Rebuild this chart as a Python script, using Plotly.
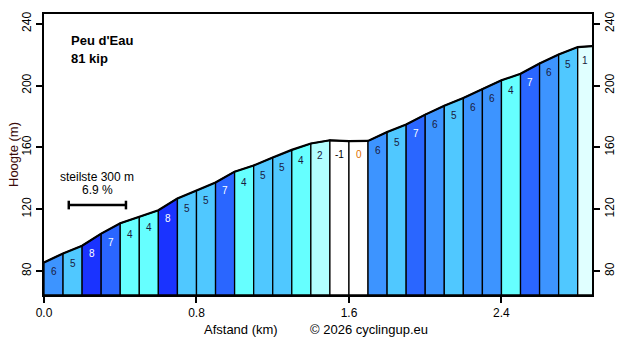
import plotly.graph_objects as go

# Data
dist_km = [0.0, 0.1, 0.2, 0.3, 0.4, 0.5, 0.6, 0.7, 0.8, 0.9, 1.0, 1.1, 1.2, 1.3, 1.4,
           1.5, 1.6, 1.7, 1.8, 1.9, 2.0, 2.1, 2.2, 2.3, 2.4, 2.5, 2.6, 2.7, 2.8, 2.88]
elev_m = [85.6, 91.4, 96.4, 104.2, 110.9, 115.0, 119.3, 127.0, 132.0, 137.3, 144.3, 148.3,
          153.4, 158.4, 162.5, 164.6, 164.1, 164.2, 169.9, 174.8, 181.2, 187.0, 192.0,
          197.8, 203.4, 207.6, 214.3, 220.1, 224.9, 225.6]
grades = [6, 5, 8, 7, 4, 4, 8, 5, 5, 7, 4, 5, 5, 4, 2, -1, 0, 6, 5, 7, 6, 5, 6, 6, 4, 7, 6, 5, 1]

title_lines = ["Peu d'Eau", "81 kip"]
steep_text = ["steilste 300 m", "6.9 %"]
steep_range = [0.13, 0.43]
x_ticks = [0.0, 0.8, 1.6, 2.4]
y_ticks = [80, 120, 160, 200, 240]

Y0, Y1 = 64.5, 246.3
X0, X1 = 0.0, 2.875

colour_map = {8: "#1a33ff", 7: "#2a66ff", 6: "#3d94ff", 5: "#50c8ff", 4: "#66ffff",
              3: "#8cffff", 2: "#b3ffff", 1: "#e0ffff", 0: "#ffffff", -1: "#ffffff"}

def label_colour(g):
    if g >= 7:
        return "#ffffff"
    if g == 0:
        return "#e07000"
    if g < 0:
        return "#000000"
    return "#1a1a40"

FONT = "Liberation Sans, Arial, sans-serif"
W, H = 632, 341
ML, MR, MT, MB = 44, 40, 14, 46
PW, PH = W - ML - MR, H - MT - MB

def px_to_paper(px, py):
    return (px - ML) / PW, (H - MB - py) / PH

fig = go.Figure()

for i, g in enumerate(grades):
    xa, xb = dist_km[i], dist_km[i + 1]
    ya, yb = elev_m[i], elev_m[i + 1]
    fig.add_trace(go.Scatter(
        x=[xa, xa, xb, xb, xa], y=[Y0, ya, yb, Y0, Y0],
        fill="toself", fillcolor=colour_map.get(g, "#ffffff"),
        line=dict(color="black", width=1.3), mode="lines",
        hoverinfo="skip", showlegend=False))

fig.add_trace(go.Scatter(x=dist_km, y=elev_m, mode="lines",
                         line=dict(color="black", width=2.2),
                         hoverinfo="skip", showlegend=False))

# gradient labels
for i, g in enumerate(grades):
    xm = (dist_km[i] + dist_km[i + 1]) / 2
    ym = (elev_m[i] + elev_m[i + 1]) / 2 - 9
    fig.add_annotation(x=xm, y=ym, text=str(g), showarrow=False,
                       font=dict(family=FONT, size=10, color=label_colour(g)))

# y2 dummy for right axis
fig.add_trace(go.Scatter(x=[X0], y=[Y0], yaxis="y2", mode="markers",
                         marker=dict(opacity=0), hoverinfo="skip", showlegend=False))

# title
for txt, py in zip(title_lines, [40, 58]):
    px_, py_ = px_to_paper(69, py)
    fig.add_annotation(xref="paper", yref="paper", x=px_, y=py_, xanchor="left",
                       yanchor="middle", text="<b>%s</b>" % txt, showarrow=False,
                       font=dict(family=FONT, size=13, color="black"))

# steepest section
xc = (steep_range[0] + steep_range[1]) / 2
fig.add_annotation(x=xc, y=140.8, text=steep_text[0], showarrow=False,
                   font=dict(family=FONT, size=12, color="black"))
fig.add_annotation(x=xc, y=132.4, text=steep_text[1], showarrow=False,
                   font=dict(family=FONT, size=12, color="black"))
ybar = 122.7
fig.add_shape(type="line", x0=steep_range[0], x1=steep_range[1], y0=ybar, y1=ybar,
              line=dict(color="black", width=2.5))
for xe in steep_range:
    fig.add_shape(type="line", x0=xe, x1=xe, y0=ybar - 2.8, y1=ybar + 2.8,
                  line=dict(color="black", width=2.5))

# axis titles / copyright
ax, ay = px_to_paper(241, 329)
fig.add_annotation(xref="paper", yref="paper", x=ax, y=ay, xanchor="center",
                   yanchor="middle", text="Afstand (km)", showarrow=False,
                   font=dict(family=FONT, size=13, color="black"))
cx, cy = px_to_paper(369, 329)
fig.add_annotation(xref="paper", yref="paper", x=cx, y=cy, xanchor="center",
                   yanchor="middle", text="© 2026 cyclingup.eu", showarrow=False,
                   font=dict(family=FONT, size=13, color="black"))
hx, hy = px_to_paper(13, 155)
fig.add_annotation(xref="paper", yref="paper", x=hx, y=hy, xanchor="center",
                   yanchor="middle", text="Hoogte (m)", textangle=-90, showarrow=False,
                   font=dict(family=FONT, size=13, color="#3a0a0a"))

fig.update_layout(
    width=W, height=H,
    margin=dict(l=ML, r=MR, t=MT, b=MB, autoexpand=False),
    paper_bgcolor="white", plot_bgcolor="white",
    font=dict(family=FONT, size=12, color="black"),
    xaxis=dict(range=[X0, X1], tickvals=x_ticks, ticktext=["%.1f" % v for v in x_ticks],
               showgrid=False, zeroline=False, showline=True, linecolor="black",
               linewidth=2, mirror=True, ticks="outside", ticklen=6, tickwidth=2,
               tickcolor="black", automargin=False, tickfont=dict(size=12)),
    yaxis=dict(range=[Y0, Y1], tickvals=y_ticks, showgrid=False, zeroline=False,
               showline=True, linecolor="black", linewidth=2, ticks="outside",
               ticklen=6, tickwidth=2, tickcolor="black", tickangle=-90,
               automargin=False, tickfont=dict(size=12)),
    yaxis2=dict(range=[Y0, Y1], tickvals=y_ticks, overlaying="y", side="right",
                showgrid=False, zeroline=False, showline=True, linecolor="black",
                linewidth=2, ticks="outside", ticklen=6, tickwidth=2,
                tickcolor="black", tickangle=-90, automargin=False,
                tickfont=dict(size=12)),
)

fig.write_html("out.html")
